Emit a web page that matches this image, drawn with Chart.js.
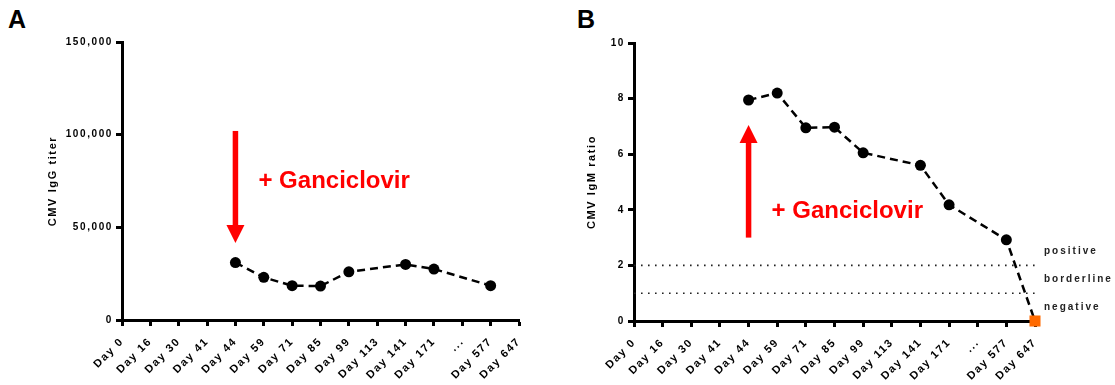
<!DOCTYPE html>
<html>
<head>
<meta charset="utf-8">
<script src="https://cdn.jsdelivr.net/npm/chart.js@4.4.1/dist/chart.umd.min.js"></script>
<style>
  body { margin: 0; background: #fff; width: 1115px; height: 385px; position: relative; overflow: hidden; }
  canvas { position: absolute; top: 0; }
  .panel { position: absolute; top: 7px; font: bold 25px/25px 'Liberation Sans', Arial, sans-serif; color: #000; }
</style>
</head>
<body>
<div class="panel" style="left:8px">A</div>
<div class="panel" style="left:577px">B</div>
<canvas id="chartA" width="557" height="385" style="left:0"></canvas>
<canvas id="chartB" width="558" height="385" style="left:557px"></canvas>
<script>
//Sampling days shown on both x axes
const days = ['Day 0', 'Day 16', 'Day 30', 'Day 41', 'Day 44', 'Day 59', 'Day 71', 'Day 85',
              'Day 99', 'Day 113', 'Day 141', 'Day 171', '...', 'Day 577', 'Day 647'];

//CMV IgG titer per day (null = not measured)
const iggTiter = [null, null, null, null, 31000, 23000, 18500, 18300,
                  26000, null, 30000, 27500, null, 18500, null];

//CMV IgM ratio per day (null = not measured)
const igmRatio = [null, null, null, null, 7.95, 8.2, 6.95, 6.97,
                  6.05, null, 5.6, 4.18, null, 2.92, 0];

//IgM ratio cut-offs and the result bands they separate
const igmCutoffs = [2, 1];
const igmBands = ['positive', 'borderline', 'negative'];

const family = "'Liberation Sans', Arial, Helvetica, sans-serif";
const tickFont = { family: family, size: 10, weight: 'bold' };
const dayFont = { family: family, size: 11, weight: 'bold' };
const titleFont = { family: family, size: 11, weight: 'bold', lineHeight: 1.2 };

//Spread out the letters of all axis text
const spacedText = {
    id: 'spacedText',
    beforeLayout(chart) { chart.ctx.letterSpacing = '1.6px'; },
    beforeDraw(chart) { chart.ctx.letterSpacing = '1.6px'; }
};

//Red arrow with the "+ Ganciclovir" note at the start of treatment
const ganciclovir = {
    id: 'ganciclovir',
    afterDatasetsDraw(chart, args, opts) {
        const ctx = chart.ctx;
        const x = chart.scales.x, y = chart.scales.y;
        const x0 = x.getPixelForValue(days.indexOf(opts.day));
        const yFrom = y.getPixelForValue(opts.from);
        const yTo = y.getPixelForValue(opts.to);
        const dir = Math.sign(yTo - yFrom);
        const head = 18;
        const yBase = yTo - dir * head;

        ctx.save();
        ctx.letterSpacing = '0px';
        ctx.fillStyle = '#ff0000';
        ctx.fillRect(x0 - 2.75, Math.min(yFrom, yBase), 5.5, Math.abs(yBase - yFrom));
        ctx.beginPath();
        ctx.moveTo(x0, yTo);
        ctx.lineTo(x0 - 9, yBase);
        ctx.lineTo(x0 + 9, yBase);
        ctx.closePath();
        ctx.fill();
        ctx.font = 'bold 24px ' + family;
        ctx.textAlign = 'left';
        ctx.textBaseline = 'alphabetic';
        ctx.fillText('+ Ganciclovir', x0 + 23, y.getPixelForValue(opts.textAt));
        ctx.restore();
    }
};

//Names of the IgM result bands, right of the plot
const bandLabels = {
    id: 'bandLabels',
    afterDraw(chart) {
        const ctx = chart.ctx;
        const y = chart.scales.y;
        const edges = [igmCutoffs[0] + 1, ...igmCutoffs, 0];

        ctx.save();
        ctx.letterSpacing = '2px';
        ctx.font = 'bold 10px ' + family;
        ctx.fillStyle = '#222';
        ctx.textAlign = 'left';
        ctx.textBaseline = 'middle';
        igmBands.forEach((name, i) => {
            const mid = (edges[i] + edges[i + 1]) / 2;
            ctx.fillText(name, chart.chartArea.right + 9, y.getPixelForValue(mid));
        });
        ctx.restore();
    }
};

function axisGrid() {
    return {
        display: true,
        drawOnChartArea: false,
        drawTicks: true,
        tickLength: 6,
        tickWidth: 3,
        tickColor: '#000'
    };
}

function xAxis(height) {
    return {
        type: 'category',
        offset: false,
        border: { color: '#000', width: 3 },
        grid: axisGrid(),
        ticks: {
            autoSkip: false,
            maxRotation: 45,
            minRotation: 45,
            padding: 9,
            color: '#000',
            font: dayFont
        },
        afterFit: s => { s.height = height; }
    };
}

function yAxis(max, step, title, width, titleGap) {
    return {
        min: 0,
        max: max,
        border: { color: '#000', width: 3 },
        grid: axisGrid(),
        ticks: {
            stepSize: step,
            padding: 3,
            color: '#000',
            font: tickFont,
            callback: v => v.toLocaleString('en-US')
        },
        title: {
            display: true,
            text: title,
            color: '#000',
            font: titleFont,
            padding: { top: titleGap, bottom: 0 }
        },
        afterFit: s => { s.width = width; }
    };
}

const seriesStyle = {
    borderColor: '#000',
    borderWidth: 2.5,
    borderDash: [8, 5],
    pointRadius: 5.5,
    pointBorderWidth: 0,
    pointBackgroundColor: '#000',
    pointBorderColor: '#000',
    spanGaps: true,
    tension: 0,
    clip: false,
    order: 0
};

const baseOptions = {
    responsive: false,
    animation: false,
    events: [],
    plugins: {
        legend: { display: false },
        tooltip: { enabled: false }
    }
};

//Panel A: IgG titer
new Chart(document.getElementById('chartA'), {
    type: 'line',
    data: {
        labels: days,
        datasets: [Object.assign({ data: iggTiter }, seriesStyle)]
    },
    options: Object.assign({}, baseOptions, {
        layout: { padding: { top: 42, right: 38, bottom: 0, left: 0 } },
        scales: {
            x: xAxis(65),
            y: yAxis(150000, 50000, 'CMV IgG titer', 122, 46)
        },
        plugins: Object.assign({}, baseOptions.plugins, {
            ganciclovir: { day: 'Day 44', from: 102000, to: 41500, textAt: 71000 }
        })
    }),
    plugins: [spacedText, ganciclovir]
});

//Panel B: IgM ratio, last sample (negative) marked in orange
const lastDay = days.length - 1;
new Chart(document.getElementById('chartB'), {
    type: 'line',
    data: {
        labels: days,
        datasets: [
            Object.assign({}, seriesStyle, {
                data: igmRatio,
                pointStyle: c => c.dataIndex === lastDay ? 'rect' : 'circle',
                pointRadius: c => c.dataIndex === lastDay ? 7.8 : 5.5,
                pointBackgroundColor: c => c.dataIndex === lastDay ? '#ff6a00' : '#000'
            }),
            ...igmCutoffs.map(v => ({
                data: days.map(() => v),
                borderColor: '#222',
                borderWidth: 1.6,
                borderDash: [1.6, 5.4],
                pointRadius: 0,
                order: 1
            }))
        ]
    },
    options: Object.assign({}, baseOptions, {
        layout: { padding: { top: 43, right: 80, bottom: 0, left: 0 } },
        scales: {
            x: xAxis(64),
            y: yAxis(10, 2, 'CMV IgM ratio', 77, 28)
        },
        plugins: Object.assign({}, baseOptions.plugins, {
            ganciclovir: { day: 'Day 44', from: 3.0, to: 7.05, textAt: 3.71 }
        })
    }),
    plugins: [spacedText, ganciclovir, bandLabels]
});
</script>
</body>
</html>
